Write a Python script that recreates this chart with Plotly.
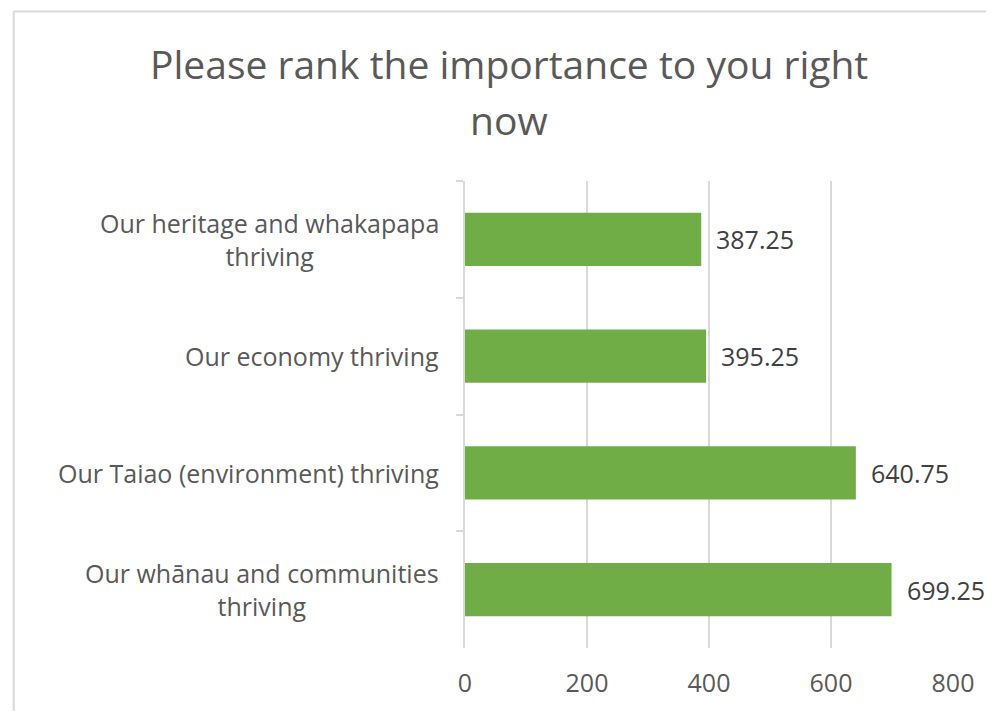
import plotly.graph_objects as go

# ---- data ----
categories = [
    "Our heritage and whakapapa<br>thriving",
    "Our economy thriving",
    "Our Taiao (environment) thriving",
    "Our whānau and communities<br>thriving",
]
values = [387.25, 395.25, 640.75, 699.25]
x_ticks = [0, 200, 400, 600, 800]
title_lines = ["Please rank the importance to you right", "now"]

# ---- layout constants (pixels, in the page; the page body adds an 8px margin) ----
OFF = 8
W, H = 994 - 2 * OFF, 719 - 2 * OFF
PLOT_L, PLOT_R, PLOT_T, PLOT_B = 465, 957, 181, 655  # page pixels
L = PLOT_L - OFF
T = PLOT_T - OFF
R = W - (PLOT_R - OFF)
B = H - (PLOT_B - OFF)
PW, PH = PLOT_R - PLOT_L, PLOT_B - PLOT_T

def px_x(px):
    return (px - PLOT_L) / PW

def px_y(py):
    return (PLOT_B - py) / PH

FONT = "Open Sans"
TXT = "#595959"
GRID = "#d9d9d9"

fig = go.Figure()
fig.add_trace(go.Bar(
    x=values, y=categories, orientation="h",
    marker=dict(color="#70ad47", line=dict(width=0)),
    hoverinfo="x+y",
))

annotations = []
# title lines
for i, line in enumerate(title_lines):
    annotations.append(dict(
        text=line, xref="paper", yref="paper",
        x=px_x(509), y=px_y(62 + 57 * i), xanchor="center", yanchor="middle",
        showarrow=False, font=dict(family=FONT, size=39, color=TXT),
    ))
# category labels
for c in categories:
    annotations.append(dict(
        text=c, xref="x", yref="y", x=0, y=c, xanchor="right", yanchor="middle",
        xshift=-24, align="center", showarrow=False,
        font=dict(family=FONT, size=25, color=TXT),
    ))
# data labels
for c, v in zip(categories, values):
    annotations.append(dict(
        text=f"{v:.2f}", xref="x", yref="y", x=v, y=c, xanchor="left", yanchor="middle",
        xshift=13, showarrow=False, font=dict(family=FONT, size=25, color="#404040"),
    ))

shapes = [
    dict(type="line", xref="paper", yref="paper", x0=px_x(10), x1=px_x(1100),
         y0=px_y(9), y1=px_y(9), line=dict(color=GRID, width=2), layer="below"),
    dict(type="line", xref="paper", yref="paper", x0=px_x(10), x1=px_x(10),
         y0=px_y(9), y1=px_y(800), line=dict(color=GRID, width=2), layer="below"),
]

fig.update_layout(
    width=W, height=H,
    margin=dict(l=L, r=R, t=T, b=B, pad=0),
    paper_bgcolor="white", plot_bgcolor="white",
    showlegend=False, bargap=0.544,
    font=dict(family=FONT, color=TXT),
    annotations=annotations, shapes=shapes,
    xaxis=dict(
        range=[0, 800], tickvals=x_ticks, ticktext=[str(t) for t in x_ticks],
        showgrid=True, gridcolor=GRID, gridwidth=1.5, zeroline=False,
        showline=False, ticks="", tickfont=dict(family=FONT, size=25, color=TXT),
        ticklabelstandoff=18,
    ),
    yaxis=dict(
        autorange="reversed", showticklabels=False, showgrid=False, zeroline=False,
        showline=True, linecolor=GRID, linewidth=1.5,
        ticks="outside", tickson="boundaries", ticklen=7, tickcolor=GRID, tickwidth=1.5,
    ),
)

fig.write_html("out.html")
